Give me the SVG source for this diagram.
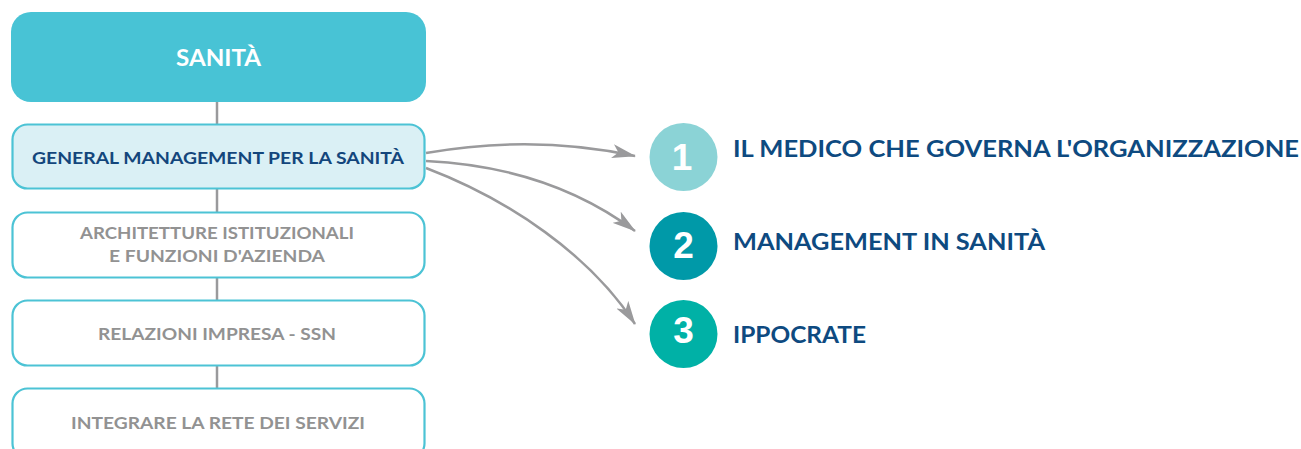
<svg xmlns="http://www.w3.org/2000/svg" width="1301" height="449" viewBox="0 0 1301 449">
<style>
.box{fill:#ffffff;stroke:#4cc3d5;stroke-width:2.2}
.sel{fill:#daf0f5;stroke:#4cc3d5;stroke-width:2.2}
.t{font-family:Lato,"Liberation Sans",sans-serif;font-weight:700}
.g{fill:#929292;font-size:17px}
.lbl{font-family:Lato,"Liberation Sans",sans-serif;font-weight:700;fill:#0e4a80;font-size:22px}
.num{font-family:"Liberation Sans",Arial,sans-serif;font-weight:700;fill:#ffffff;font-size:37px;text-anchor:middle}
.con{fill:none;stroke:#9a9a9c;stroke-width:2.5}
.vl{stroke:#9a9a9c;stroke-width:2.5}
</style>
<defs>
<marker id="ah" viewBox="0 0 24 14" refX="23" refY="7" markerWidth="24" markerHeight="14" markerUnits="userSpaceOnUse" orient="auto">
<path d="M0,0 L24,7 L0,14 L6,7 Z" fill="#9a9a9c"/>
</marker>
</defs>
<rect width="1301" height="449" fill="#ffffff"/>
<g id="connectors">
<line class="vl" x1="217" y1="102" x2="217" y2="124"/>
<line class="vl" x1="217" y1="189" x2="217" y2="212"/>
<line class="vl" x1="217" y1="278" x2="217" y2="300"/>
<line class="vl" x1="217" y1="366" x2="217" y2="388"/>
<path class="con" d="M426,153 C500,140 570,142 635,156" marker-end="url(#ah)"/>
<path class="con" d="M426,161 C510,165 580,190 635,231" marker-end="url(#ah)"/>
<path class="con" d="M426,168 C510,200 590,255 635,324" marker-end="url(#ah)"/>
</g>
<g id="n-sanita">
<rect x="11" y="12" width="415" height="90" rx="20" fill="#48c3d5"/>
<text class="t" x="176" y="66" fill="#ffffff" font-size="22" textLength="85" lengthAdjust="spacingAndGlyphs">SANITÀ</text>
</g>
<g id="n-gm">
<rect class="sel" x="12.5" y="124.5" width="412" height="64" rx="15"/>
<text class="t" x="32" y="164" fill="#13467c" font-size="17" textLength="372" lengthAdjust="spacingAndGlyphs">GENERAL MANAGEMENT PER LA SANITÀ</text>
</g>
<g id="n-arch">
<rect class="box" x="12.5" y="212.5" width="412" height="65" rx="15"/>
<text class="t g" x="80" y="239" textLength="274" lengthAdjust="spacingAndGlyphs">ARCHITETTURE ISTITUZIONALI</text>
<text class="t g" x="109" y="262" textLength="216" lengthAdjust="spacingAndGlyphs">E FUNZIONI D'AZIENDA</text>
</g>
<g id="n-rel">
<rect class="box" x="12.5" y="300.5" width="412" height="65" rx="15"/>
<text class="t g" x="98" y="340" textLength="238" lengthAdjust="spacingAndGlyphs">RELAZIONI IMPRESA - SSN</text>
</g>
<g id="n-int">
<rect class="box" x="12.5" y="388.5" width="412" height="70" rx="15"/>
<text class="t g" x="71" y="429" textLength="294" lengthAdjust="spacingAndGlyphs">INTEGRARE LA RETE DEI SERVIZI</text>
</g>
<g id="n-1">
<circle cx="683.5" cy="157" r="34" fill="#8bd3d6"/>
<text class="num" x="682" y="170">1</text>
<text class="lbl" x="733" y="157" textLength="566" lengthAdjust="spacingAndGlyphs">IL MEDICO CHE GOVERNA L'ORGANIZZAZIONE</text>
</g>
<g id="n-2">
<circle cx="683.5" cy="246" r="34" fill="#0099a8"/>
<text class="num" x="683.5" y="258">2</text>
<text class="lbl" x="733" y="250" textLength="312" lengthAdjust="spacingAndGlyphs">MANAGEMENT IN SANITÀ</text>
</g>
<g id="n-3">
<circle cx="683.5" cy="334" r="34" fill="#00b1a6"/>
<text class="num" x="683.5" y="343">3</text>
<text class="lbl" x="733" y="343" textLength="133" lengthAdjust="spacingAndGlyphs">IPPOCRATE</text>
</g>
</svg>
